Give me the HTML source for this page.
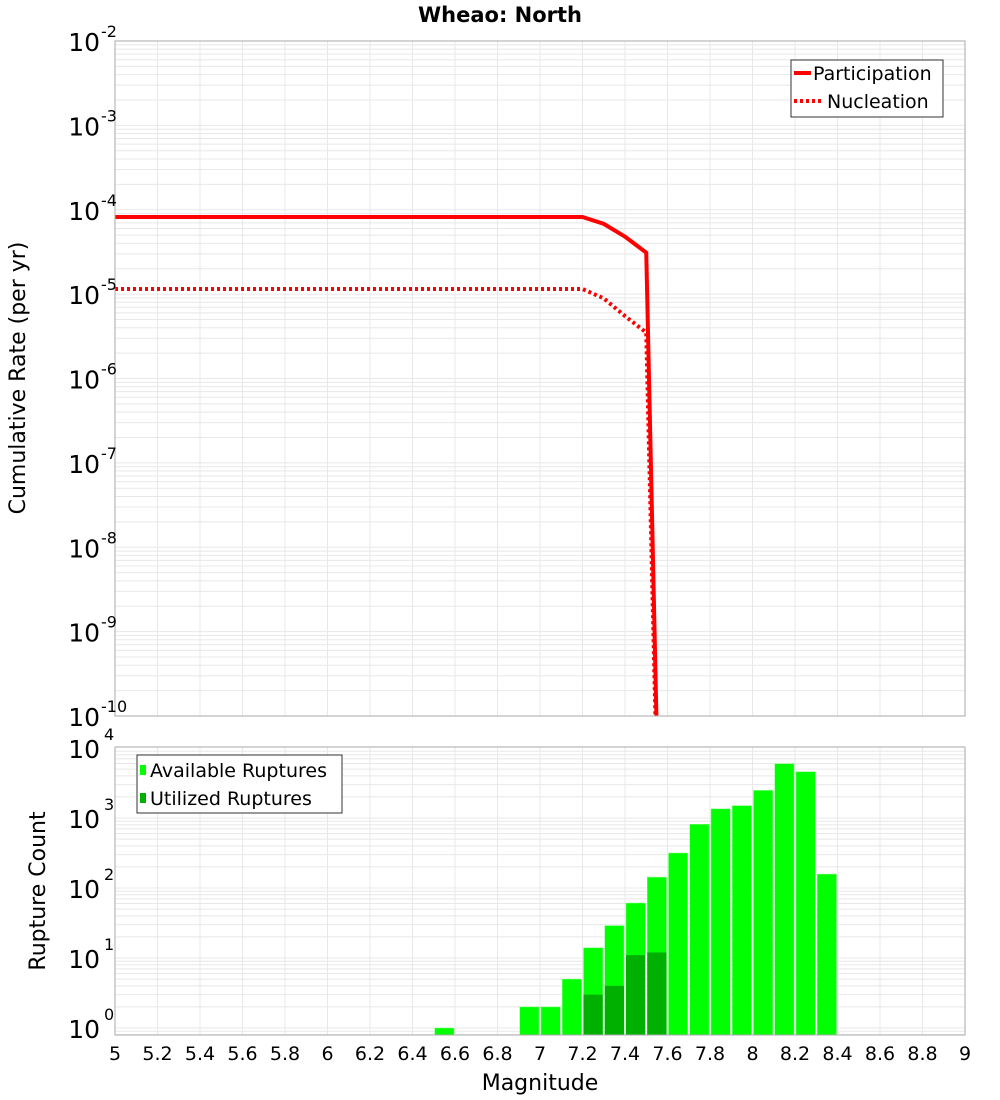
<!DOCTYPE html>
<html><head><meta charset="utf-8"><style>
html,body{margin:0;padding:0;background:#fff;}
svg{display:block;font-family:"DejaVu Sans","Liberation Sans",sans-serif;}
</style></head><body>
<svg id="chart" width="1000" height="1100" xmlns="http://www.w3.org/2000/svg">
<text x="500" y="22" text-anchor="middle" font-size="21" font-weight="bold">Wheao: North</text>
<g id="topPlot"></g>
<g id="botPlot"></g>
<text transform="translate(25,378) rotate(-90)" text-anchor="middle" font-size="22">Cumulative Rate (per yr)</text>
<text transform="translate(45,891) rotate(-90)" text-anchor="middle" font-size="22">Rupture Count</text>
<text x="540" y="1090" text-anchor="middle" font-size="22">Magnitude</text>
</svg>
<script>
const rateMags = [5.0,5.1,5.2,5.3,5.4,5.5,5.6,5.7,5.8,5.9,6.0,6.1,6.2,6.3,6.4,6.5,6.6,6.7,6.8,6.9,7.0,7.1,7.2,7.3,7.4,7.5,7.6];
const participation = [8.2e-5,8.2e-5,8.2e-5,8.2e-5,8.2e-5,8.2e-5,8.2e-5,8.2e-5,8.2e-5,8.2e-5,8.2e-5,8.2e-5,8.2e-5,8.2e-5,8.2e-5,8.2e-5,8.2e-5,8.2e-5,8.2e-5,8.2e-5,8.2e-5,8.2e-5,8.2e-5,6.8e-5,4.8e-5,3.1e-5,1e-16];
const nucleation = [1.15e-5,1.15e-5,1.15e-5,1.15e-5,1.15e-5,1.15e-5,1.15e-5,1.15e-5,1.15e-5,1.15e-5,1.15e-5,1.15e-5,1.15e-5,1.15e-5,1.15e-5,1.15e-5,1.15e-5,1.15e-5,1.15e-5,1.15e-5,1.15e-5,1.15e-5,1.15e-5,8.9e-6,5.5e-6,3.5e-6,1e-16];
const binMags = [6.55,6.95,7.05,7.15,7.25,7.35,7.45,7.55,7.65,7.75,7.85,7.95,8.05,8.15,8.25,8.35];
const available = [1,2,2,5,14,29,61,143,316,813,1350,1500,2480,5970,4580,158];
const utilized = [0,0,0,0,3,4,11,12,0,0,0,0,0,0,0,0];
const xTicks = ["5","5.2","5.4","5.6","5.8","6","6.2","6.4","6.6","6.8","7","7.2","7.4","7.6","7.8","8","8.2","8.4","8.6","8.8","9"];
const topExps = [-2,-3,-4,-5,-6,-7,-8,-9,-10];
const botExps = [4,3,2,1,0];

const NS="http://www.w3.org/2000/svg";
const L=115,R=965;
const xs=m=>L+(m-5)*(R-L)/4;
const T0=41,T1=716;
const yTop=v=>T0+(-2-Math.log10(v))*(T1-T0)/8;
const B0=747,B1=1035;
const yBot=v=>1028-Math.log10(v)*70;
function mk(p,tag,a){const e=document.createElementNS(NS,tag);for(const k in a)e.setAttribute(k,a[k]);p.appendChild(e);return e;}
const gTop=document.getElementById('topPlot'),gBot=document.getElementById('botPlot');

function grid(g,y0,y1,yfun,lo,hi){
  for(let d=lo;d<hi;d++)for(let k=1;k<10;k++){const yy=yfun(k*Math.pow(10,d));if(yy>=y0&&yy<=y1){const l=mk(g,'line',{x1:L,x2:R,y1:yy,y2:yy,stroke:'#e8e8e8','stroke-width':1});

}}
  xTicks.forEach(t=>{const xx=xs(parseFloat(t));const l=mk(g,'line',{x1:xx,x2:xx,y1:y0,y2:y1,stroke:'#e8e8e8','stroke-width':1});

});
}
const tc=mk(gTop,'clipPath',{id:'tclip'});mk(tc,'rect',{x:L,y:T0,width:R-L,height:T1-T0});
grid(gTop,T0,T1,yTop,-10,-2);
function drawLine(data,dash,name){
  const pts=rateMags.map((m,i)=>xs(m)+','+yTop(data[i])).join(' ');
  const p=mk(gTop,'polyline',{points:pts,fill:'none',stroke:'#ff0000','stroke-width':4,'stroke-dasharray':dash,'clip-path':'url(#tclip)'});
  
  
}
drawLine(participation,'none','participation-line');
drawLine(nucleation,'3,3','nucleation-line');
mk(gTop,'rect',{x:L,y:T0,width:R-L,height:T1-T0,fill:'none',stroke:'#aaa'});
topExps.forEach(e=>{const yy=yTop(Math.pow(10,e));
  const t=mk(gTop,'text',{x:100,y:yy+10,'text-anchor':'end','font-size':25});t.textContent='10';
  
  
  const s=mk(gTop,'text',{x:101,y:yy-4,'font-size':16});s.textContent=String(e);
  
  });
const lg=mk(gTop,'g',{});


mk(lg,'rect',{x:791,y:60,width:152,height:57,fill:'#fff',stroke:'#333'});
mk(lg,'line',{x1:794,x2:811,y1:73,y2:73,stroke:'#f00','stroke-width':4});
mk(lg,'line',{x1:794,x2:822,y1:101,y2:101,stroke:'#f00','stroke-width':4,'stroke-dasharray':'3,3'});
let t1=mk(lg,'text',{x:813,y:80,'font-size':19});t1.textContent='Participation';


let t2=mk(lg,'text',{x:827,y:108,'font-size':19});t2.textContent='Nucleation';



grid(gBot,B0,B1,yBot,-1,4);
const bw=(R-L)/40;
binMags.forEach((m,i)=>{
  const xx=xs(m-0.05);
  if(available[i]>0){const yy=yBot(available[i]);const r=mk(gBot,'rect',{x:xx+1,y:yy,width:bw-2,height:B1-yy,fill:'#00ff00',stroke:'#7fff7f','stroke-width':0.5});
  
  }
  if(utilized[i]>0){const yy=yBot(utilized[i]);const r=mk(gBot,'rect',{x:xx+1,y:yy,width:bw-2,height:B1-yy,fill:'#00b000'});
  
  }
});
mk(gBot,'rect',{x:L,y:B0,width:R-L,height:B1-B0,fill:'none',stroke:'#aaa'});
botExps.forEach(e=>{const yy=yBot(Math.pow(10,e));
  const t=mk(gBot,'text',{x:100,y:yy+10,'text-anchor':'end','font-size':25});t.textContent='10';
  
  
  const s=mk(gBot,'text',{x:104,y:yy-8,'font-size':16});s.textContent=String(e);
  
  });
xTicks.forEach(t=>{const e=mk(gBot,'text',{x:xs(parseFloat(t)),y:1060,'text-anchor':'middle','font-size':19});e.textContent=t;
  
  });
const lb=mk(gBot,'g',{});


mk(lb,'rect',{x:137,y:755,width:205,height:58,fill:'#fff',stroke:'#333'});
mk(lb,'rect',{x:140,y:765,width:6,height:10,fill:'#00ff00'});
mk(lb,'rect',{x:140,y:793,width:6,height:10,fill:'#00b000'});
let l1=mk(lb,'text',{x:150,y:777,'font-size':19});l1.textContent='Available Ruptures';


let l2=mk(lb,'text',{x:150,y:805,'font-size':19});l2.textContent='Utilized Ruptures';


</script>
</body></html>
